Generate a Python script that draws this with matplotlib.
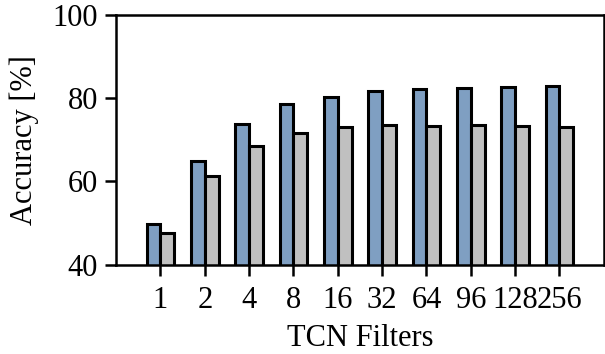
import numpy as np
import matplotlib
matplotlib.use('Agg')
import matplotlib.pyplot as plt

filters = ['1', '2', '4', '8', '16', '32', '64', '96', '128', '256']
acc_blue = [49.8, 65.0, 73.8, 78.5, 80.2, 81.8, 82.2, 82.4, 82.6, 83.0]
acc_gray = [47.7, 61.4, 68.6, 71.6, 73.2, 73.5, 73.4, 73.5, 73.4, 73.2]

plt.rcParams['font.family'] = ['Liberation Serif', 'DejaVu Serif']
plt.rcParams['font.size'] = 22

fig, ax = plt.subplots(figsize=(6.05, 3.54), dpi=100)
x = np.arange(len(filters))
w = 0.31
ax.bar(x - w / 2, acc_blue, w, color='#7f9fc2', edgecolor='black', linewidth=2.2)
ax.bar(x + w / 2, acc_gray, w, color='#c0c0c0', edgecolor='black', linewidth=2.2)

ax.set_xlim(-1, 10)
ax.set_ylim(40, 100)
ax.set_yticks([40, 60, 80, 100])
ax.set_xticks(x)
ax.set_xticklabels(filters)
ax.tick_params(axis='both', direction='out', length=8, width=1.8)
ax.tick_params(axis='x', pad=7)
ax.tick_params(axis='y', pad=5)
for s in ax.spines.values():
    s.set_linewidth(1.8)
ax.set_xlabel('TCN Filters', labelpad=7)
ax.set_ylabel('Accuracy [%]', labelpad=10)

fig.subplots_adjust(left=0.192, right=0.998, top=0.958, bottom=0.252)
plt.savefig('out.png')
